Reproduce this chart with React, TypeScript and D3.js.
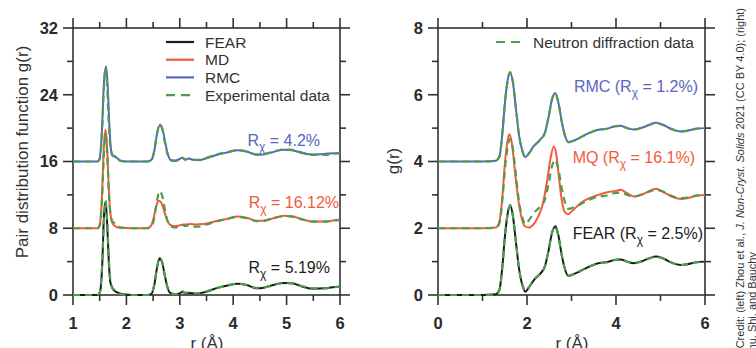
import React, { useEffect, useRef } from 'react';
import * as d3 from 'd3';

// ---- data, each point is [r, g(r)] before the vertical offset ----

// left panel
const leftFear = [[1.0,0],[1.47,0],[1.51,0.5],[1.55,4],[1.58,9.5],[1.61,11.2],[1.64,8.5],[1.67,4],[1.7,1.5],[1.75,0.7],[1.8,0.4],[1.88,0.2],[1.98,0.05],[2.1,0],[2.4,0],[2.47,0.15],[2.52,1.1],[2.57,3.1],[2.62,4.4],[2.67,3.9],[2.72,2.3],[2.77,0.9],[2.82,0.25],[2.9,0.1],[3.0,0.2],[3.05,0.4],[3.1,0.2],[3.2,0.25],[3.3,0.15],[3.5,0.4],[3.7,0.85],[3.9,1.15],[4.08,1.35],[4.25,1.2],[4.45,0.8],[4.55,0.85],[4.75,1.2],[4.95,1.45],[5.1,1.4],[5.3,1.0],[5.5,0.75],[5.7,0.8],[5.9,0.95],[6.0,1.0]];
const leftMd = [[1.0,0],[1.46,0],[1.5,0.4],[1.54,3.5],[1.58,10],[1.61,11.8],[1.64,9.5],[1.67,4.8],[1.7,1.8],[1.74,0.6],[1.8,0.2],[1.9,0.05],[2.1,0],[2.38,0],[2.45,0.2],[2.5,1.0],[2.55,2.4],[2.6,3.3],[2.65,3.1],[2.7,2.2],[2.76,1.0],[2.82,0.4],[2.9,0.25],[3.0,0.35],[3.1,0.45],[3.2,0.5],[3.3,0.45],[3.45,0.5],[3.65,0.8],[3.9,1.15],[4.08,1.4],[4.25,1.25],[4.45,0.9],[4.55,0.9],[4.75,1.2],[4.95,1.5],[5.1,1.45],[5.3,1.05],[5.5,0.8],[5.7,0.8],[5.9,0.95],[6.0,1.0]];
const leftRmc = [[1.0,0],[1.47,0],[1.5,0.4],[1.54,3.5],[1.58,9.5],[1.62,11.4],[1.65,9],[1.68,4.5],[1.71,1.5],[1.74,0.7],[1.78,0.6],[1.83,0.4],[1.88,0.1],[1.95,0],[2.4,0],[2.47,0.2],[2.52,1.2],[2.57,3.2],[2.63,4.4],[2.68,3.8],[2.73,2.2],[2.78,0.8],[2.83,0.15],[2.9,0.05],[3.0,0.3],[3.05,0.45],[3.1,0.2],[3.17,0.35],[3.25,0.2],[3.35,0.15],[3.5,0.4],[3.7,0.8],[3.9,1.1],[4.08,1.35],[4.25,1.2],[4.45,0.8],[4.55,0.85],[4.75,1.15],[4.95,1.4],[5.1,1.35],[5.3,1.0],[5.5,0.85],[5.7,0.9],[5.9,1.0],[6.0,1.0]];
const leftExp = [[1.0,0],[1.45,0],[1.5,0.3],[1.54,3],[1.58,9],[1.61,11.3],[1.64,9],[1.67,4.5],[1.7,1.8],[1.74,0.8],[1.79,0.6],[1.85,0.2],[1.95,0.05],[2.1,0],[2.4,0],[2.47,0.2],[2.52,1.2],[2.57,3.2],[2.62,4.45],[2.67,3.9],[2.72,2.3],[2.77,0.9],[2.82,0.25],[2.9,0.1],[3.0,0.25],[3.05,0.45],[3.1,0.25],[3.17,0.35],[3.25,0.2],[3.35,0.2],[3.5,0.45],[3.7,0.85],[3.9,1.15],[4.08,1.35],[4.25,1.2],[4.45,0.85],[4.55,0.85],[4.75,1.2],[4.95,1.45],[5.1,1.4],[5.3,1.05],[5.5,0.8],[5.7,0.8],[5.9,0.95],[6.0,1.0]];
const leftOffsets = [0, 8, 16]; // FEAR, MD, RMC

// right panel
const rightExp = [[0,0],[1.0,0],[1.3,0.02],[1.38,0.15],[1.45,0.9],[1.5,1.7],[1.55,2.3],[1.62,2.68],[1.68,2.4],[1.75,1.6],[1.82,0.8],[1.9,0.3],[1.96,0.12],[2.05,0.25],[2.15,0.45],[2.3,0.65],[2.4,0.85],[2.48,1.3],[2.56,1.85],[2.63,2.05],[2.7,1.8],[2.78,1.2],[2.86,0.75],[2.93,0.58],[3.0,0.6],[3.2,0.72],[3.4,0.85],[3.6,0.95],[3.8,0.98],[3.95,1.05],[4.1,1.07],[4.25,1.0],[4.4,0.95],[4.6,1.02],[4.75,1.1],[4.9,1.15],[5.05,1.1],[5.25,0.97],[5.45,0.9],[5.6,0.92],[5.8,0.98],[6.0,1.0]];
const rightFear = [[0,0],[1.0,0],[1.3,0.02],[1.38,0.15],[1.45,0.9],[1.5,1.7],[1.55,2.3],[1.62,2.7],[1.68,2.4],[1.75,1.6],[1.82,0.8],[1.9,0.28],[1.96,0.1],[2.05,0.24],[2.15,0.44],[2.3,0.64],[2.4,0.85],[2.48,1.3],[2.56,1.85],[2.64,2.06],[2.7,1.82],[2.78,1.2],[2.86,0.74],[2.93,0.57],[3.0,0.6],[3.2,0.72],[3.4,0.85],[3.6,0.95],[3.8,0.99],[3.95,1.04],[4.1,1.06],[4.25,1.0],[4.4,0.95],[4.6,1.02],[4.75,1.1],[4.9,1.15],[5.05,1.1],[5.25,0.97],[5.45,0.9],[5.6,0.92],[5.8,0.98],[6.0,1.0]];
const rightMq = [[0,0],[1.0,0],[1.3,0.02],[1.38,0.2],[1.45,1.0],[1.5,1.9],[1.55,2.5],[1.6,2.82],[1.66,2.55],[1.73,1.7],[1.8,0.9],[1.88,0.3],[1.95,0.06],[2.05,0.02],[2.15,0.12],[2.25,0.35],[2.35,0.7],[2.45,1.4],[2.53,2.1],[2.6,2.45],[2.66,2.2],[2.72,1.5],[2.78,0.85],[2.85,0.48],[2.92,0.42],[3.0,0.5],[3.2,0.75],[3.4,0.9],[3.6,1.0],[3.8,1.08],[4.0,1.12],[4.1,1.15],[4.25,1.05],[4.4,0.95],[4.6,1.02],[4.75,1.12],[4.9,1.18],[5.05,1.1],[5.25,0.95],[5.45,0.88],[5.6,0.9],[5.8,0.97],[6.0,1.0]];
const rightRmc = [[0,0],[1.0,0],[1.3,0.02],[1.38,0.15],[1.45,0.9],[1.5,1.7],[1.55,2.3],[1.62,2.66],[1.68,2.4],[1.75,1.6],[1.82,0.8],[1.9,0.3],[1.96,0.13],[2.05,0.26],[2.15,0.46],[2.3,0.66],[2.4,0.85],[2.48,1.3],[2.56,1.85],[2.63,2.05],[2.7,1.8],[2.78,1.2],[2.86,0.75],[2.93,0.58],[3.0,0.6],[3.2,0.72],[3.4,0.86],[3.6,0.95],[3.8,0.98],[3.95,1.05],[4.1,1.07],[4.25,1.0],[4.4,0.96],[4.6,1.02],[4.75,1.1],[4.9,1.16],[5.05,1.1],[5.25,0.97],[5.45,0.9],[5.6,0.92],[5.8,0.98],[6.0,1.0]];
const rightOffsets = [0, 2, 4]; // FEAR, MQ, RMC

// axes
const leftXMajor = [1, 2, 3, 4, 5, 6];
const leftXMinor = [1.5, 2.5, 3.5, 4.5, 5.5];
const leftYMajor = [0, 8, 16, 24, 32];
const leftYMinor = [4, 12, 20, 28];
const rightXMajor = [0, 2, 4, 6];
const rightXMinor = [1, 3, 5];
const rightYMajor = [0, 2, 4, 6, 8];
const rightYMinor = [1, 3, 5, 7];

const leftLegend = ['FEAR', 'MD', 'RMC', 'Experimental data'];
const leftNotes = ['5.19%', '16.12%', '4.2%'];
const rightNotes = [['FEAR (', '2.5%)'], ['MQ (', '16.1%)'], ['RMC (', '1.2%)']];

const FONT = '"Liberation Sans", Arial, Helvetica, sans-serif';
const BLACK = '#1c1c1c';
const RED = '#f25a3a';
const BLUE = '#5866bd';
const GREEN = '#4e9c4e';
const FRAME = '#333';

const App = () => {
  const svgRef = useRef(null);

  useEffect(() => {
    const svg = d3.select(svgRef.current);
    svg.selectAll('*').remove();

    const xL = d3.scaleLinear().domain([1, 6]).range([73, 340]);
    const yL = d3.scaleLinear().domain([0, 32]).range([295, 28]);
    const xR = d3.scaleLinear().domain([0, 6]).range([438, 705]);
    const yR = d3.scaleLinear().domain([0, 8]).range([295, 28]);

    const drawFrame = (x, y, xMaj, xMin, yMaj, yMin) => {
      const g = svg.append('g').attr('stroke', FRAME).attr('stroke-width', 1.6);
      const [x0, x1] = x.range();
      const [y0, y1] = y.range();
      const ticks = [
        ...xMaj.map(v => ({ v, len: 10 })),
        ...xMin.map(v => ({ v, len: 6 })),
      ];
      const yticks = [
        ...yMaj.map(v => ({ v, len: 10 })),
        ...yMin.map(v => ({ v, len: 6 })),
      ];
      // bottom, top, left, right ticks (pointing outward)
      g.append('g').selectAll('line').data(ticks).join('line')
        .attr('x1', d => x(d.v)).attr('x2', d => x(d.v))
        .attr('y1', y0).attr('y2', d => y0 + d.len);
      g.append('g').selectAll('line').data(ticks).join('line')
        .attr('x1', d => x(d.v)).attr('x2', d => x(d.v))
        .attr('y1', y1).attr('y2', d => y1 - d.len);
      g.append('g').selectAll('line').data(yticks).join('line')
        .attr('y1', d => y(d.v)).attr('y2', d => y(d.v))
        .attr('x1', x0).attr('x2', d => x0 - d.len);
      g.append('g').selectAll('line').data(yticks).join('line')
        .attr('y1', d => y(d.v)).attr('y2', d => y(d.v))
        .attr('x1', x1).attr('x2', d => x1 + d.len);
      g.append('rect')
        .attr('x', x0).attr('y', y1)
        .attr('width', x1 - x0).attr('height', y0 - y1)
        .attr('fill', 'none');

      // tick labels
      const t = svg.append('g')
        .attr('font-family', FONT).attr('font-size', 16.5)
        .attr('font-weight', 'bold').attr('fill', '#2a2a2a');
      t.selectAll('text.x').data(xMaj).join('text')
        .attr('x', d => x(d)).attr('y', 329)
        .attr('text-anchor', 'middle').text(d => d);
      t.selectAll('text.y').data(yMaj).join('text')
        .attr('x', x0 - 15).attr('y', d => y(d)).attr('dy', '0.36em')
        .attr('text-anchor', 'end').text(d => d);
    };

    const line = (x, y, off) => d3.line()
      .x(d => x(d[0])).y(d => y(d[1] + off))
      .curve(d3.curveMonotoneX);

    const drawCurve = (x, y, data, off, color, dashed) => {
      svg.append('path')
        .attr('d', line(x, y, off)(data))
        .attr('fill', 'none')
        .attr('stroke', color)
        .attr('stroke-width', dashed ? 2.2 : 2)
        .attr('stroke-dasharray', dashed ? '7,5' : null)
        .attr('stroke-linejoin', 'round');
    };

    drawFrame(xL, yL, leftXMajor, leftXMinor, leftYMajor, leftYMinor);
    drawFrame(xR, yR, rightXMajor, rightXMinor, rightYMajor, rightYMinor);

    // left curves
    const leftModels = [[leftFear, BLACK], [leftMd, RED], [leftRmc, BLUE]];
    leftModels.forEach(([data, color], i) => drawCurve(xL, yL, data, leftOffsets[i], color, false));
    leftOffsets.forEach(off => drawCurve(xL, yL, leftExp, off, GREEN, true));

    // right curves
    const rightModels = [[rightFear, BLACK], [rightMq, RED], [rightRmc, BLUE]];
    rightModels.forEach(([data, color], i) => drawCurve(xR, yR, data, rightOffsets[i], color, false));
    rightOffsets.forEach(off => drawCurve(xR, yR, rightExp, off, GREEN, true));

    // left legend
    const legColors = [BLACK, RED, BLUE, GREEN];
    const lg = svg.append('g').attr('font-family', FONT).attr('font-size', 15.5).attr('fill', '#333');
    leftLegend.forEach((name, i) => {
      const yy = 42 + i * 17.7;
      lg.append('line')
        .attr('x1', 166).attr('x2', 194).attr('y1', yy).attr('y2', yy)
        .attr('stroke', legColors[i]).attr('stroke-width', 2.2)
        .attr('stroke-dasharray', i === 3 ? '9,6' : null);
      lg.append('text').attr('x', 205).attr('y', yy).attr('dy', '0.36em').text(name);
    });
    // right legend
    lg.append('line')
      .attr('x1', 496).attr('x2', 522).attr('y1', 42).attr('y2', 42)
      .attr('stroke', GREEN).attr('stroke-width', 2.2).attr('stroke-dasharray', '9,6');
    lg.append('text').attr('x', 533).attr('y', 42).attr('dy', '0.36em').text('Neutron diffraction data');

    // R_chi annotations
    const note = (x, y, color, pre, val) => {
      const t = svg.append('text')
        .attr('x', x).attr('y', y).attr('text-anchor', 'end')
        .attr('font-family', FONT).attr('font-size', 16).attr('fill', color);
      t.append('tspan').text(pre + 'R');
      t.append('tspan').attr('dy', 5).attr('font-size', 12).text('χ');
      t.append('tspan').attr('dy', -5).text(' = ' + val);
    };
    const noteColors = [BLACK, RED, BLUE];
    const leftNotePos = [[330, 273], [339, 208], [320, 146]];
    leftNotes.forEach((v, i) => note(leftNotePos[i][0], leftNotePos[i][1], noteColors[i], '', v));
    const rightNotePos = [[703, 239], [695, 163], [698, 92]];
    rightNotes.forEach(([p, v], i) => note(rightNotePos[i][0], rightNotePos[i][1], noteColors[i], p, v));

    // axis titles
    const ax = svg.append('g').attr('font-family', FONT).attr('font-size', 17).attr('fill', '#333');
    ax.append('text')
      .attr('transform', 'translate(28,152) rotate(-90)')
      .attr('text-anchor', 'middle').text('Pair distribution function g(r)');
    ax.append('text')
      .attr('transform', 'translate(399,161) rotate(-90)')
      .attr('text-anchor', 'middle').text('g(r)');
    ax.append('text').attr('x', 207).attr('y', 349).attr('text-anchor', 'middle').text('r (Å)');
    ax.append('text').attr('x', 572).attr('y', 349).attr('text-anchor', 'middle').text('r (Å)');

    // credit line on the right edge
    const cr = svg.append('g').attr('font-family', FONT).attr('font-size', 11).attr('fill', '#333');
    const c1 = cr.append('text').attr('transform', 'translate(744,8) rotate(-90)').attr('text-anchor', 'end');
    c1.append('tspan').text('Credit: (left) Zhou et al., ');
    c1.append('tspan').attr('font-style', 'italic').text('J. Non-Cryst. Solids');
    c1.append('tspan').text(' 2021 (CC BY 4.0); (right)');
    cr.append('text').attr('transform', 'translate(756,252) rotate(-90)').attr('text-anchor', 'end')
      .text('Zhu, Shi, and Bauchy');
  }, []);

  return (
    <svg
      ref={svgRef}
      width={756}
      height={348}
      style={{ position: 'fixed', left: 0, top: 0, background: '#fff' }}
    />
  );
};

export default App;
